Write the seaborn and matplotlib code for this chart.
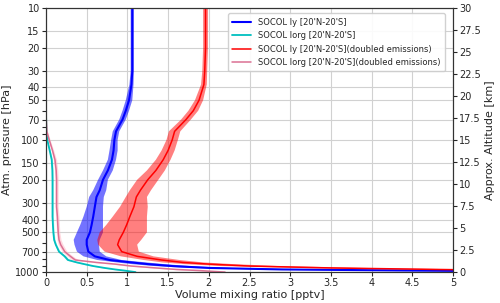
#!/usr/bin/env python3
"""Tropical iodine profiles (SOCOL), Iy and Iorg, base vs doubled emissions."""

import matplotlib
matplotlib.use("Agg")
import matplotlib.pyplot as plt
import matplotlib.ticker as mticker
import numpy as np
import seaborn as sns

# pressure levels [hPa]
pressure = [10, 15, 20, 30, 38, 50, 60, 70, 86, 100, 120, 141, 170, 200, 240, 270,
            320, 380, 440, 500, 570, 620, 700, 760, 810, 845, 870, 900, 930, 955, 975, 1000]

iy_mean = [1.06, 1.06, 1.06, 1.06, 1.05, 1.02, 0.98, 0.94, 0.86, 0.84, 0.83, 0.81, 0.76, 0.70,
           0.66, 0.62, 0.60, 0.58, 0.56, 0.54, 0.50, 0.50, 0.52, 0.60, 0.78, 1.05, 1.25, 1.55,
           2.0, 2.9, 4.6, 7.0]
iy_spread = [0.02, 0.02, 0.02, 0.02, 0.025, 0.04, 0.04, 0.04, 0.04, 0.04, 0.05, 0.05, 0.06,
             0.06, 0.08, 0.09, 0.10, 0.12, 0.14, 0.16, 0.16, 0.15, 0.14, 0.14, 0.15, 0.18,
             0.20, 0.22, 0.25, 0.30, 0.35, 0.40]

iorg_mean = [0, 0, 0, 0, 0, 0, 0, 0.002, 0.005, 0.016, 0.045, 0.07, 0.078, 0.08, 0.08, 0.08,
             0.08, 0.08, 0.085, 0.09, 0.10, 0.12, 0.16, 0.23, 0.27, 0.38, 0.47, 0.58, 0.72,
             0.85, 0.97, 1.1]
iorg_spread = [0, 0, 0, 0, 0, 0, 0, 0.002, 0.004, 0.006, 0.008, 0.01, 0.01, 0.01, 0.01, 0.01,
               0.01, 0.01, 0.01, 0.01, 0.012, 0.012, 0.015, 0.02, 0.02, 0.02, 0.02, 0.02,
               0.02, 0.02, 0.02, 0.02]

iy2_mean = [1.96, 1.96, 1.96, 1.95, 1.94, 1.88, 1.81, 1.72, 1.58, 1.55, 1.50, 1.44, 1.35, 1.25,
            1.16, 1.11, 1.08, 1.03, 0.99, 0.95, 0.90, 0.88, 0.93, 1.12, 1.42, 1.68, 2.0, 2.5,
            3.5, 4.8, 6.0, 7.5]
iy2_spread = [0.03, 0.03, 0.03, 0.03, 0.035, 0.05, 0.06, 0.06, 0.07, 0.07, 0.08, 0.09, 0.11,
              0.13, 0.13, 0.13, 0.17, 0.21, 0.25, 0.29, 0.27, 0.24, 0.21, 0.20, 0.22, 0.25,
              0.30, 0.35, 0.40, 0.45, 0.50, 0.60]

iorg2_mean = [0, 0, 0, 0, 0, 0, 0, 0.003, 0.01, 0.04, 0.08, 0.11, 0.125, 0.13, 0.13, 0.13,
              0.13, 0.14, 0.145, 0.15, 0.16, 0.18, 0.23, 0.30, 0.36, 0.62, 0.85, 1.05, 1.35,
              1.6, 1.9, 2.2]
iorg2_spread = [0, 0, 0, 0, 0, 0, 0, 0.003, 0.008, 0.012, 0.015, 0.02, 0.02, 0.02, 0.02, 0.02,
                0.02, 0.02, 0.02, 0.02, 0.025, 0.03, 0.03, 0.035, 0.04, 0.05, 0.05, 0.05,
                0.06, 0.06, 0.06, 0.06]

labels = [
    "SOCOL Iy [20'N-20'S]",
    "SOCOL Iorg [20'N-20'S]",
    "SOCOL Iy [20'N-20'S](doubled emissions)",
    "SOCOL Iorg [20'N-20'S](doubled emissions)",
]

p_ticks = [10, 15, 20, 30, 40, 50, 70, 100, 150, 200, 300, 400, 500, 700, 1000]
alt_ticks = [0, 2.5, 5, 7.5, 10, 12.5, 15, 17.5, 20, 22.5, 25, 27.5, 30]

sns.set_style("whitegrid", {
    "axes.edgecolor": "0.2",
    "grid.color": "0.82",
    "xtick.bottom": True,
    "ytick.left": True,
})
plt.rcParams.update({"font.size": 8})

fig, ax = plt.subplots(figsize=(5.0, 3.03), dpi=100)
fig.subplots_adjust(left=0.092, right=0.906, bottom=0.102, top=0.974)

series = [
    (iy_mean, iy_spread, "blue", "blue", 0.55, 1.5),
    (iorg_mean, iorg_spread, "c", "c", 0.3, 1.3),
    (iy2_mean, iy2_spread, "red", "red", 0.5, 1.1),
    (iorg2_mean, iorg2_spread, "palevioletred", "pink", 0.6, 1.1),
]

p = np.array(pressure)
for (mean, spread, lc, fc, alpha, lw), label in zip(series, labels):
    mean = np.array(mean)
    spread = np.array(spread)
    ax.fill_betweenx(p, mean - spread, mean + spread, color=fc, alpha=alpha, lw=0)
    sns.lineplot(x=mean, y=p, sort=False, estimator=None, color=lc, lw=lw,
                 label=label, ax=ax)

ax.set_yscale("log")
ax.set_ylim(1000, 10)
ax.set_xlim(0, 5)
ax.set_yticks(p_ticks)
ax.set_yticklabels([str(t) for t in p_ticks])
ax.yaxis.set_minor_formatter(mticker.NullFormatter())
ax.set_xticks(np.arange(0, 5.01, 0.5))
ax.set_xticklabels(["0", "0.5", "1", "1.5", "2", "2.5", "3", "3.5", "4", "4.5", "5"])
ax.tick_params(which="both", length=3, width=0.8, pad=1.5, labelsize=7)
ax.set_xlabel("Volume mixing ratio [pptv]", labelpad=1)
ax.set_ylabel("Atm. pressure [hPa]", labelpad=2)
ax.grid(True, which="major", lw=0.8)
ax.grid(False, which="minor")

ax.legend(loc="upper right", fontsize=6, frameon=True, framealpha=0.9,
          borderpad=0.5, labelspacing=0.55, handlelength=2.3,
          bbox_to_anchor=(0.99, 0.995))

ax2 = ax.twinx()
ax2.set_ylim(0, 30)
ax2.set_yticks(alt_ticks)
ax2.set_yticklabels([f"{t:g}" for t in alt_ticks])
ax2.grid(False)
ax2.tick_params(right=True, length=3, width=0.8, pad=1.5, labelsize=7)
ax2.set_ylabel("Approx. Altitude [km]", labelpad=3)

plt.savefig("out.png", dpi=100)
plt.close(fig)
